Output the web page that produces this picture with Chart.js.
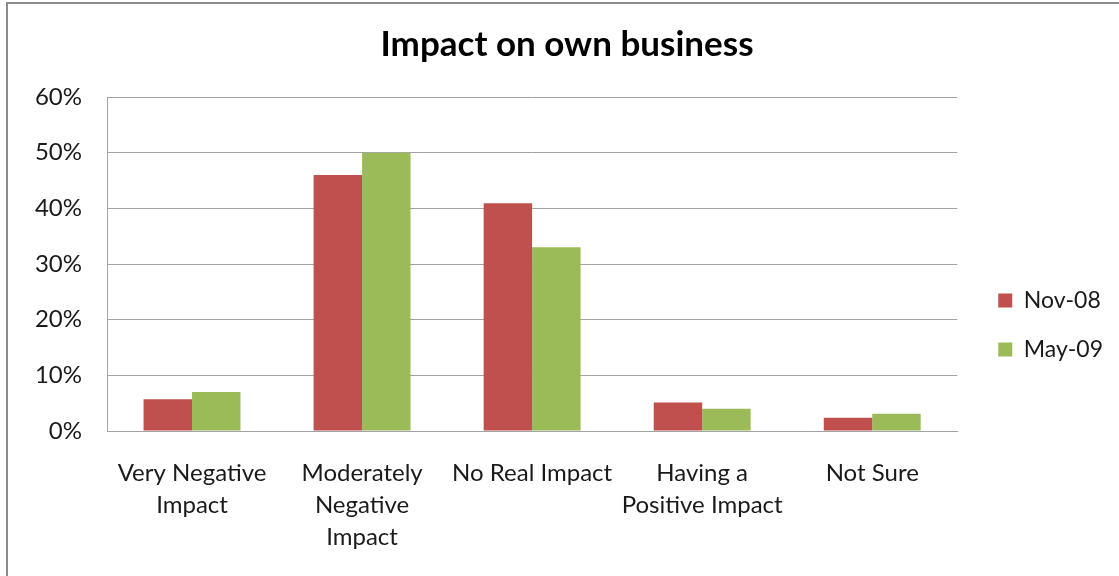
<!DOCTYPE html>
<html>
<head>
<meta charset="utf-8">
<title>Impact on own business</title>
<script src="https://cdn.jsdelivr.net/npm/chart.js@4.4.1/dist/chart.umd.min.js"></script>
<style>
  html, body { margin: 0; padding: 0; background: #fff; }
  .frame {
    position: absolute; left: 6px; top: 2px; width: 1200px; height: 700px;
    border-left: 2px solid #8c8c8c; border-top: 2px solid #8c8c8c;
  }
  .wrap { position: absolute; left: 0; top: 0; width: 1119px; height: 576px; }
</style>
</head>
<body>
<div class="frame"></div>
<div class="wrap"><canvas id="impactChart"></canvas></div>
<script>
// Survey answers
const categories = [
  ['Very Negative', 'Impact'],
  ['Moderately', 'Negative', 'Impact'],
  'No Real Impact',
  ['Having a', 'Positive Impact'],
  'Not Sure'
];
const nov08 = [5.7, 46.0, 40.9, 5.1, 2.4];
const may09 = [7.0, 50.0, 33.0, 4.0, 3.1];
const yTicks = [0, 10, 20, 30, 40, 50, 60];

const FONT = "Lato, 'Noto Sans', sans-serif";
const GRID = '#a3a3a3';

// nudge the legend right of the plot and down a little, centre the title over the plot
const blockShift = {
  id: 'blockShift',
  afterLayout(chart) {
    const lg = chart.legend;
    lg.left += 15;
    lg.right += 15;
    lg.top += 37;
    lg.bottom += 37;
    const tb = chart.titleBlock;
    tb.left += 18;
    tb.right += 18;
  }
};

const ctx = document.getElementById('impactChart').getContext('2d');

new Chart(ctx, {
  type: 'bar',
  data: {
    labels: categories,
    datasets: [
      { label: 'Nov-08', data: nov08, backgroundColor: '#c0504d' },
      { label: 'May-09', data: may09, backgroundColor: '#9bbb59' }
    ]
  },
  options: {
    responsive: true,
    maintainAspectRatio: false,
    animation: false,
    datasets: {
      bar: { categoryPercentage: 0.57, barPercentage: 1.0 }
    },
    layout: { padding: { left: 0, right: 21, top: 0, bottom: 0 } },
    scales: {
      x: {
        grid: { display: false, drawTicks: false },
        border: { color: GRID, width: 1 },
        ticks: {
          color: '#1a1a1a',
          padding: 26,
          maxRotation: 0,
          autoSkip: false,
          font: { family: FONT, size: 24, lineHeight: 1.333 }
        },
        afterFit(scale) { scale.height = 145; }
      },
      y: {
        min: 0,
        max: 60,
        afterBuildTicks(scale) {
          scale.ticks = yTicks.map(v => ({ value: v }));
        },
        grid: { color: GRID, drawTicks: false },
        border: { color: GRID, width: 1 },
        ticks: {
          color: '#1a1a1a',
          padding: 25,
          font: { family: FONT, size: 24 },
          callback: v => v + '%'
        },
        afterFit(scale) { scale.width = 107; }
      }
    },
    plugins: {
      title: {
        display: true,
        text: 'Impact on own business',
        color: '#000',
        font: { family: FONT, size: 35, weight: 'bold', lineHeight: 1.2 },
        padding: { top: 24, bottom: 31 }
      },
      legend: {
        position: 'right',
        labels: {
          color: '#1a1a1a',
          boxWidth: 14,
          boxHeight: 14,
          padding: 26,
          font: { family: FONT, size: 23 }
        }
      },
      tooltip: { enabled: false }
    }
  },
  plugins: [blockShift]
});
</script>
</body>
</html>
